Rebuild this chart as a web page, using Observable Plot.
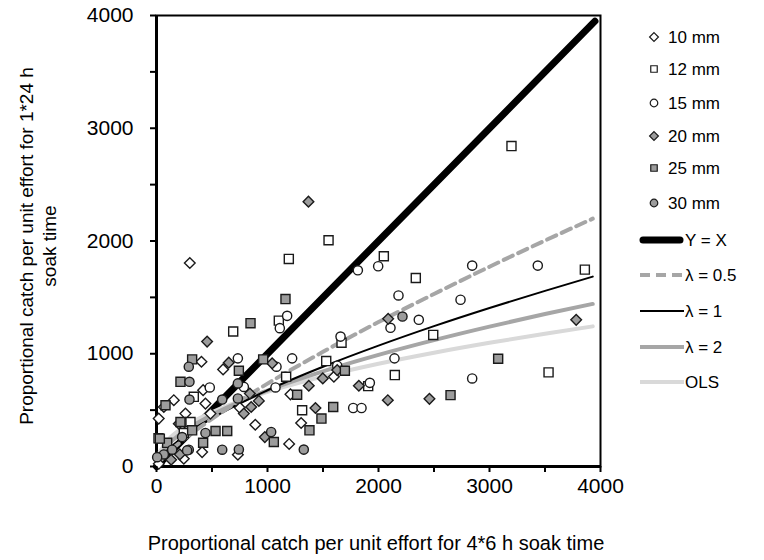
<!DOCTYPE html>
<html><head><meta charset="utf-8">
<script src="https://cdn.jsdelivr.net/npm/d3@7"></script>
<script src="https://cdn.jsdelivr.net/npm/@observablehq/plot@0.6"></script>
<style>
body{margin:0;background:#fff;}
#wrap{position:relative;width:764px;height:560px;}
#wrap svg{position:absolute;left:0;top:0;}
</style></head><body><div id="wrap"></div>
<script>
// ---- data (x = 4*6 h CPUE, y = 1*24 h CPUE) ----
const mm10 = [[300,1805],[1303,386],[1195,200],[1598,796],[1207,640],[890,370],[751,520],[733,105],[411,128],[405,929],[600,861],[420,677],[441,558],[156,588],[66,528],[20,425],[261,469],[486,469],[276,321],[21,24],[246,69]];
const mm12 = [[3198,2842],[1550,2007],[1192,1841],[2048,1865],[2336,1672],[3859,1746],[2493,1167],[3532,835],[1667,1098],[1529,935],[2147,811],[1907,713],[1312,499],[1168,796],[1102,1294],[691,1197],[336,618],[306,395],[246,297],[18,250]];
const mm15 = [[1814,1740],[1997,1776],[2180,1517],[2844,1782],[3435,1782],[2739,1479],[2844,781],[2363,1301],[2108,1230],[1658,1152],[1222,959],[1628,894],[2144,959],[1922,742],[1772,519],[1847,519],[1177,1336],[1111,1227],[733,959],[1081,885],[1072,701],[480,701],[787,706]];
const mm20 = [[1369,2349],[3781,1301],[2459,600],[2087,1310],[1628,855],[1498,781],[1372,716],[1823,716],[2084,588],[1432,519],[976,261],[787,469],[853,528],[922,582],[841,647],[456,1108],[651,921],[1042,915],[201,380],[132,60],[210,107]];
const mm25 = [[1162,1485],[3078,956],[2649,633],[1697,849],[1592,528],[1486,425],[1378,321],[1267,636],[1057,217],[847,1271],[321,950],[742,849],[961,950],[216,751],[532,315],[637,315],[420,211],[216,395],[321,321],[96,210],[30,247],[81,543]];
const mm30 = [[2216,1330],[1327,150],[1033,306],[742,151],[733,737],[733,603],[592,149],[291,149],[291,885],[297,751],[297,594],[592,594],[441,297],[141,149],[66,107],[6,83],[276,143],[231,261]];

const curveX = [30,100,250,500,1000,1500,2000,2500,3000,3500,3930];
const lam05  = [44,117,243,422,735,1017,1281,1530,1772,2004,2198];
const lam1   = [65,146,268,426,676,885,1072,1245,1406,1558,1684];
const lam2   = [96,187,312,458,674,844,990,1121,1241,1352,1442];
const ols    = [132,230,350,481,662,798,911,1009,1097,1178,1243];
const identityXY = [0,3950];

const axisTicks = [0,500,1000,1500,2000,2500,3000,3500,4000];
const seriesLabels = ["10 mm","12 mm","15 mm","20 mm","25 mm","30 mm"];
const lineLabels = ["Y = X","\u03bb = 0.5","\u03bb = 1","\u03bb = 2","OLS"];
const xTitle = "Proportional catch per unit effort for 4*6 h soak time";
const yTitle = ["Proportional catch per unit effort for 1*24 h","soak time"];

// ---- helpers ----
const FONT = "'Liberation Sans', Arial, sans-serif";
const rows = (xs, ys) => xs.map((x, i) => ({x, y: ys[i]}));
const pts = arr => arr.map(([x, y]) => ({x, y}));
const GRAY = "#9c9c9c";
const series = [
  {data: mm10, symbol: "diamond2", fill: "#fff", r: 4.8},
  {data: mm12, symbol: "square", fill: "#fff", r: 5.1},
  {data: mm15, symbol: "circle", fill: "#fff", r: 4.6},
  {data: mm20, symbol: "diamond2", fill: GRAY, r: 4.8},
  {data: mm25, symbol: "square", fill: GRAY, r: 5.1},
  {data: mm30, symbol: "circle", fill: GRAY, r: 4.6}
];
const lineStyles = [
  {stroke: "#000", strokeWidth: 7, dash: null, cap: "round"},
  {stroke: "#a6a6a6", strokeWidth: 4, dash: "10,6", cap: "butt"},
  {stroke: "#000", strokeWidth: 2, dash: null, cap: "butt"},
  {stroke: "#a6a6a6", strokeWidth: 4, dash: null, cap: "butt"},
  {stroke: "#d9d9d9", strokeWidth: 4, dash: null, cap: "butt"}
];

const chart = Plot.plot({
  width: 764, height: 560,
  marginLeft: 156, marginRight: 164, marginTop: 15, marginBottom: 94,
  x: {domain: [0, 4000]},
  y: {domain: [0, 4000]},
  style: {fontFamily: FONT, fontSize: "21px", color: "#000", background: "transparent", overflow: "visible"},
  marks: [
    Plot.frame({stroke: "#000", strokeWidth: 2}),
    Plot.ruleX([0], {stroke: "#000", strokeWidth: 3}),
    Plot.ruleY([0], {stroke: "#000", strokeWidth: 3}),
    Plot.line(rows(identityXY, identityXY), {x: "x", y: "y", stroke: "#000", strokeWidth: 7, strokeLinecap: "round"}),
    Plot.line(rows(curveX, ols), {x: "x", y: "y", stroke: "#d9d9d9", strokeWidth: 4, curve: "monotone-x"}),
    Plot.line(rows(curveX, lam2), {x: "x", y: "y", stroke: "#a6a6a6", strokeWidth: 4, curve: "monotone-x"}),
    Plot.line(rows(curveX, lam1), {x: "x", y: "y", stroke: "#000", strokeWidth: 2, curve: "monotone-x"}),
    Plot.line(rows(curveX, lam05), {x: "x", y: "y", stroke: "#a6a6a6", strokeWidth: 4, strokeDasharray: "10,6", curve: "monotone-x"}),
    ...series.map(s => Plot.dot(pts(s.data), {x: "x", y: "y", symbol: () => s.symbol, r: s.r, fill: s.fill, stroke: "#1a1a1a", strokeWidth: 1.4})),
    Plot.axisX({ticks: axisTicks, tickFormat: d => d % 1000 === 0 ? String(d) : "", tickSize: 6, tickPadding: 6, strokeWidth: 2, label: null}),
    Plot.axisY({ticks: axisTicks, tickFormat: d => d % 1000 === 0 ? String(d) : "", tickSize: 6, tickPadding: 17, strokeWidth: 2, label: null})
  ]
});
document.getElementById("wrap").appendChild(chart);

// ---- overlay: axis titles and legend ----
const ov = d3.create("svg").attr("width", 764).attr("height", 560).style("font-family", FONT);
ov.append("text").attr("x", 376).attr("y", 550).attr("text-anchor", "middle").attr("font-size", 20).text(xTitle);
const yt = ov.append("text").attr("transform", "translate(33,246) rotate(-90)").attr("text-anchor", "middle").attr("font-size", 19);
yTitle.forEach((t, i) => yt.append("tspan").attr("x", 0).attr("y", i * 23).text(t));

const legRowY = [37, 69, 103, 136, 168, 203];
const symGen = {
  diamond2: d3.symbol(d3.symbolDiamond2, 50),
  square: d3.symbol(d3.symbolSquare, 42),
  circle: d3.symbol(d3.symbolCircle, 45)
};
series.forEach((s, i) => {
  const y = legRowY[i];
  ov.append("path").attr("d", symGen[s.symbol]()).attr("transform", `translate(654,${y})`)
    .attr("fill", s.fill).attr("stroke", "#1a1a1a").attr("stroke-width", 1.2);
  ov.append("text").attr("x", 668).attr("y", y).attr("dy", "0.35em").attr("font-size", 17).text(seriesLabels[i]);
});
const lineRowY = [240, 275, 311, 347, 382];
lineStyles.forEach((l, i) => {
  const y = lineRowY[i];
  const ln = ov.append("line").attr("x1", l.cap === "round" ? 643 : 640).attr("x2", l.cap === "round" ? 680 : 684)
    .attr("y1", y).attr("y2", y).attr("stroke", l.stroke).attr("stroke-width", l.strokeWidth).attr("stroke-linecap", l.cap);
  if (l.dash) ln.attr("stroke-dasharray", l.dash);
  ov.append("text").attr("x", 685).attr("y", y).attr("dy", "0.35em").attr("font-size", 17).text(lineLabels[i]);
});
document.getElementById("wrap").appendChild(ov.node());
</script></body></html>
